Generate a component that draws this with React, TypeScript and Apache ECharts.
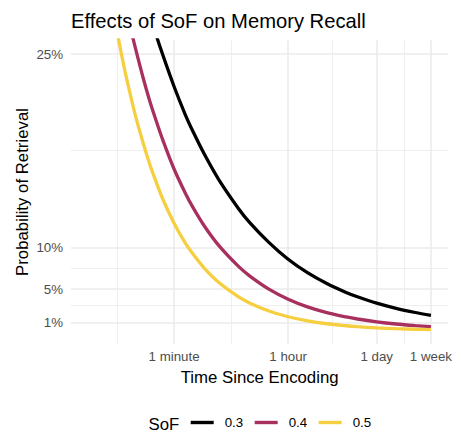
import React, { useEffect, useRef } from "react";
import * as echarts from "echarts";

// Time since encoding (seconds)
const timesSec = [3, 5, 8, 10, 12, 15, 20, 25, 30, 40, 60, 90, 120, 180, 300, 600, 900, 1800, 3600, 7200, 14400, 28800, 43200, 86400, 172800, 345600, 604800];
// Probability of retrieval (%) per SoF
const sof03 = [71.9, 61.7, 53.6, 50.1, 47.4, 44.4, 40.7, 38.1, 36.0, 33.1, 29.3, 25.9, 23.8, 21.1, 18.1, 14.7, 13.0, 10.6, 8.57, 6.96, 5.66, 4.59, 4.07, 3.3, 2.68, 2.18, 1.84];
const sof04 = [64.4, 52.5, 43.5, 39.8, 37.0, 33.9, 30.2, 27.6, 25.7, 22.9, 19.4, 16.5, 14.7, 12.5, 10.2, 7.74, 6.58, 4.99, 3.78, 2.86, 2.17, 1.65, 1.4, 1.06, 0.8, 0.61, 0.49];
const sof05 = [57.7, 44.7, 35.4, 31.6, 28.9, 25.8, 22.4, 20.0, 18.3, 15.8, 12.9, 10.5, 9.13, 7.45, 5.77, 4.08, 3.33, 2.36, 1.67, 1.18, 0.83, 0.59, 0.48, 0.34, 0.24, 0.17, 0.13];

const seriesNames = ["0.3", "0.4", "0.5"];
const seriesColors = ["#000000", "#A8305F", "#F5CF40"];

const xTickSeconds = [60, 3600, 86400, 604800];
const xTickLabels = ["1 minute", "1 hour", "1 day", "1 week"];
const xMinorSeconds = [7.746, 464.8, 17636, 228592];

const yTickValues = [1, 5, 10, 33.2];
const yTickLabels = ["1%", "5%", "10%", "25%"];
const yMinorValues = [3, 7.5, 21.6];

const FONT = "Liberation Sans, Arial, sans-serif";

export default function App() {
  const ref = useRef<HTMLDivElement>(null);

  useEffect(() => {
    if (!ref.current) return;
    const chart = echarts.init(ref.current, undefined, { renderer: "svg" });

    const xMajor = xTickSeconds.map((t) => Math.log10(t));
    const xMinor = xMinorSeconds.map((t) => Math.log10(t));
    const xMin = 0.172;
    const xMax = 6.049;
    const yMin = -1.6;
    const yMax = 34.88;

    const allSeries = [sof03, sof04, sof05];

    const option: any = {
      animation: false,
      backgroundColor: "#ffffff",
      textStyle: { fontFamily: FONT },
      grid: { left: 71, right: 6.7, top: 40, bottom: 88, containLabel: false },
      xAxis: [
        {
          type: "value",
          min: xMin,
          max: xMax,
          axisLine: { show: false },
          axisTick: { show: false, customValues: xMajor },
          axisLabel: {
            customValues: xMajor,
            margin: 6,
            fontSize: 13.3,
            color: "#4D4D4D",
            fontFamily: FONT,
            formatter: (v: number) => {
              const i = xMajor.findIndex((t) => Math.abs(t - v) < 1e-6);
              return i >= 0 ? xTickLabels[i] : "";
            },
          },
          splitLine: { show: true, lineStyle: { color: "#EBEBEB", width: 1.6 } },
        },
        {
          type: "value",
          min: xMin,
          max: xMax,
          position: "top",
          axisLine: { show: false },
          axisTick: { show: false, customValues: xMinor },
          axisLabel: { show: false, customValues: xMinor },
          splitLine: { show: true, lineStyle: { color: "#EBEBEB", width: 0.8 } },
        },
      ],
      yAxis: [
        {
          type: "value",
          min: yMin,
          max: yMax,
          axisLine: { show: false },
          axisTick: { show: false, customValues: yTickValues },
          axisLabel: {
            customValues: yTickValues,
            margin: 8,
            fontSize: 13.3,
            color: "#4D4D4D",
            fontFamily: FONT,
            formatter: (v: number) => {
              const i = yTickValues.findIndex((t) => Math.abs(t - v) < 1e-6);
              return i >= 0 ? yTickLabels[i] : "";
            },
          },
          splitLine: { show: true, lineStyle: { color: "#EBEBEB", width: 1.6 } },
        },
        {
          type: "value",
          min: yMin,
          max: yMax,
          position: "right",
          axisLine: { show: false },
          axisTick: { show: false, customValues: yMinorValues },
          axisLabel: { show: false, customValues: yMinorValues },
          splitLine: { show: true, lineStyle: { color: "#EBEBEB", width: 0.8 } },
        },
      ],
      legend: {
        data: seriesNames,
        icon: "rect",
        padding: 0,
        itemWidth: 23,
        itemHeight: 3.4,
        itemGap: 11.5,
        left: 190.7,
        top: 416,
        textStyle: { fontSize: 13.3, color: "#000000", fontFamily: FONT, padding: [0, 0, 0, 6] },
      },
      series: allSeries.map((vals, i) => ({
        name: seriesNames[i],
        type: "line",
        xAxisIndex: 0,
        yAxisIndex: 0,
        data: timesSec.map((t, j) => [Math.log10(t), vals[j]]),
        showSymbol: false,
        symbol: "none",
        smooth: 0.3,
        clip: true,
        color: seriesColors[i],
        lineStyle: { color: seriesColors[i], width: 3.3 },
        itemStyle: { color: seriesColors[i] },
      })),
      graphic: [
        {
          type: "text",
          x: 71,
          y: 21.3,
          style: {
            text: "Effects of SoF on Memory Recall",
            fontSize: 20.2,
            fontFamily: FONT,
            fill: "#000000",
            align: "left",
            verticalAlign: "middle",
          },
        },
        {
          type: "text",
          x: 22,
          y: 192,
          rotation: Math.PI / 2,
          style: {
            text: "Probability of Retrieval",
            fontSize: 16.8,
            fontFamily: FONT,
            fill: "#000000",
            align: "center",
            verticalAlign: "middle",
          },
        },
        {
          type: "text",
          x: 259.6,
          y: 377.3,
          style: {
            text: "Time Since Encoding",
            fontSize: 16.8,
            fontFamily: FONT,
            fill: "#000000",
            align: "center",
            verticalAlign: "middle",
          },
        },
        {
          type: "text",
          x: 148.5,
          y: 424,
          style: {
            text: "SoF",
            fontSize: 16.8,
            fontFamily: FONT,
            fill: "#000000",
            align: "left",
            verticalAlign: "middle",
          },
        },
      ],
    };

    chart.setOption(option);
    return () => chart.dispose();
  }, []);

  return (
    <div
      ref={ref}
      style={{ position: "absolute", left: 0, top: 0, width: 455, height: 432 }}
    />
  );
}
